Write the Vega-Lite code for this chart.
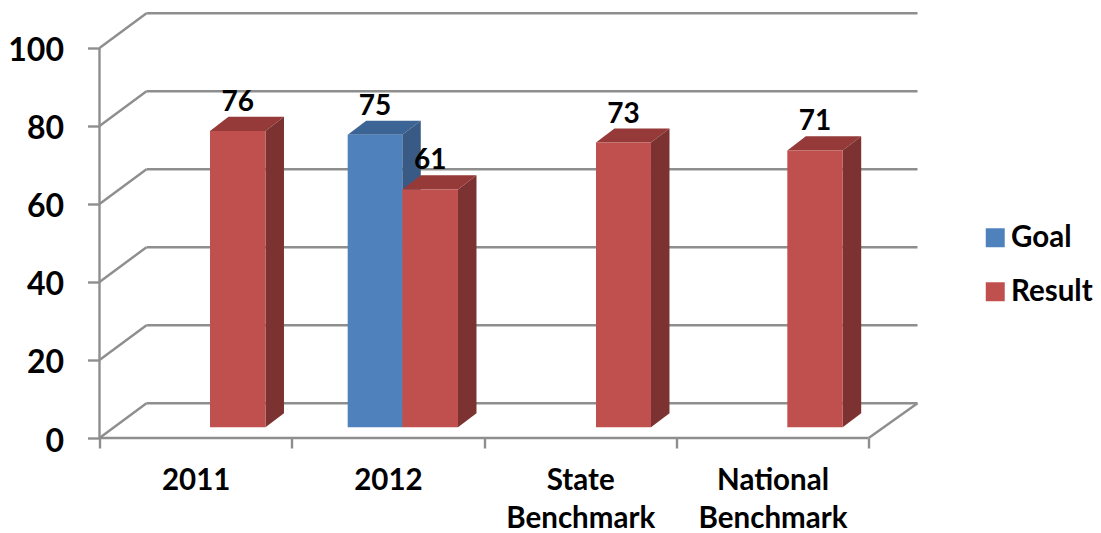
{
"$schema":"https://vega.github.io/schema/vega-lite/v6.json",
"width":818,"height":425,
"autosize":{"type":"none"},
"padding":{"left":99.5,"top":13,"right":183.5,"bottom":95},
"background":"white",
"config":{"view":{"stroke":null},"font":"Lato"},
"datasets":{
"bars":[
{"category":"2011","series":"Result","value":76,"left":0.5746,"right":0.8632,"mid":0.7189,"base":2.74,"top":78.74},
{"category":"2012","series":"Goal","value":75,"left":1.2907,"right":1.5746,"mid":1.4327,"base":2.74,"top":77.74},
{"category":"2012","series":"Result","value":61,"left":1.5746,"right":1.8643,"mid":1.7195,"base":2.74,"top":63.74},
{"category":"State Benchmark","series":"Result","value":73,"left":2.582,"right":2.868,"mid":2.725,"base":2.74,"top":75.74},
{"category":"National Benchmark","series":"Result","value":71,"left":3.577,"right":3.865,"mid":3.721,"base":2.74,"top":73.74}
],
"lines":[
{"x":0.2444,"x2":4.254,"y":8.92,"y2":8.92},
{"x":0.2444,"x2":4.254,"y":28.92,"y2":28.92},
{"x":0.2444,"x2":4.254,"y":48.92,"y2":48.92},
{"x":0.2444,"x2":4.254,"y":68.92,"y2":68.92},
{"x":0.2444,"x2":4.254,"y":88.92,"y2":88.92},
{"x":0.2444,"x2":4.254,"y":108.92,"y2":108.92},
{"x":0,"x2":0.2444,"y":0,"y2":8.92},
{"x":0,"x2":0.2444,"y":20,"y2":28.92},
{"x":0,"x2":0.2444,"y":40,"y2":48.92},
{"x":0,"x2":0.2444,"y":60,"y2":68.92},
{"x":0,"x2":0.2444,"y":80,"y2":88.92},
{"x":0,"x2":0.2444,"y":100,"y2":108.92},
{"x":4,"x2":4.254,"y":0,"y2":8.92},
{"x":0,"x2":4,"y":0,"y2":0},
{"x":0,"x2":0,"y":0,"y2":100}
],
"faces":[
{"face":"g-top","shade":"blueTop","x":1.2907,"y":77.74,"y2":77.74},
{"face":"g-top","shade":"blueTop","x":1.3869,"y":81.34,"y2":77.74},
{"face":"g-top","shade":"blueTop","x":1.5746,"y":81.34,"y2":77.74},
{"face":"g-top","shade":"blueTop","x":1.6708,"y":81.34,"y2":81.34},
{"face":"g-side","shade":"blueSide","x":1.5746,"y":77.74,"y2":2.74},
{"face":"g-side","shade":"blueSide","x":1.6708,"y":81.34,"y2":6.34},
{"face":"a-top","shade":"redTop","x":0.5746,"y":78.74,"y2":78.74},
{"face":"a-top","shade":"redTop","x":0.6708,"y":82.34,"y2":78.74},
{"face":"a-top","shade":"redTop","x":0.8632,"y":82.34,"y2":78.74},
{"face":"a-top","shade":"redTop","x":0.9594,"y":82.34,"y2":82.34},
{"face":"a-side","shade":"redSide","x":0.8632,"y":78.74,"y2":2.74},
{"face":"a-side","shade":"redSide","x":0.9594,"y":82.34,"y2":6.34},
{"face":"r-side","shade":"redSide","x":1.8643,"y":63.74,"y2":2.74},
{"face":"r-side","shade":"redSide","x":1.9605,"y":67.34,"y2":6.34},
{"face":"r-top","shade":"redTop","x":1.5746,"y":63.74,"y2":63.74},
{"face":"r-top","shade":"redTop","x":1.6708,"y":67.34,"y2":63.74},
{"face":"r-top","shade":"redTop","x":1.8643,"y":67.34,"y2":63.74},
{"face":"r-top","shade":"redTop","x":1.9605,"y":67.34,"y2":67.34},
{"face":"s-top","shade":"redTop","x":2.582,"y":75.74,"y2":75.74},
{"face":"s-top","shade":"redTop","x":2.6782,"y":79.34,"y2":75.74},
{"face":"s-top","shade":"redTop","x":2.868,"y":79.34,"y2":75.74},
{"face":"s-top","shade":"redTop","x":2.9642,"y":79.34,"y2":79.34},
{"face":"s-side","shade":"redSide","x":2.868,"y":75.74,"y2":2.74},
{"face":"s-side","shade":"redSide","x":2.9642,"y":79.34,"y2":6.34},
{"face":"n-top","shade":"redTop","x":3.577,"y":73.74,"y2":73.74},
{"face":"n-top","shade":"redTop","x":3.6732,"y":77.34,"y2":73.74},
{"face":"n-top","shade":"redTop","x":3.865,"y":77.34,"y2":73.74},
{"face":"n-top","shade":"redTop","x":3.9612,"y":77.34,"y2":77.34},
{"face":"n-side","shade":"redSide","x":3.865,"y":73.74,"y2":2.74},
{"face":"n-side","shade":"redSide","x":3.9612,"y":77.34,"y2":6.34}
]
},
"layer":[
{
"data":{"name":"lines"},
"mark":{"type":"rule","color":"#8e8e8e","strokeWidth":2.4},
"encoding":{
"x":{"field":"x","type":"quantitative","scale":{"domain":[0,4.254],"nice":false,"zero":false},
"axis":{"title":null,"grid":false,"domain":false,"values":[0,0.5,1,1.5,2,2.5,3,3.5,4],
"labelExpr":"datum.value==0.5?'2011':datum.value==1.5?'2012':datum.value==2.5?['State','Benchmark']:datum.value==3.5?['National','Benchmark']:''",
"tickOpacity":{"condition":{"test":"datum.value % 1 === 0","value":1},"value":0},
"tickColor":"#8e8e8e","tickWidth":2.4,"tickSize":10,"labelFontSize":29.5,"labelFontWeight":"bold","labelColor":"#000000","labelFont":"Lato","labelPadding":18,"labelLineHeight":38,"labelBaseline":"top","labelOverlap":false,"labelFlush":false,"labelLimit":300}},
"x2":{"field":"x2"},
"y":{"field":"y","type":"quantitative","scale":{"domain":[0,108.97],"nice":false,"zero":false},
"axis":{"title":null,"grid":false,"domain":false,"values":[0,20,40,60,80,100],"tickColor":"#8e8e8e","tickWidth":2.4,"tickSize":12,"labelFontSize":32,"labelFontWeight":"bold","labelColor":"#000000","labelFont":"Lato","labelPadding":24,"labelOffset":3}},
"y2":{"field":"y2"}
}
},
{
"data":{"name":"faces"},
"mark":{"type":"area","orient":"vertical","interpolate":"linear"},
"encoding":{
"x":{"field":"x","type":"quantitative"},
"y":{"field":"y","type":"quantitative","stack":null},
"y2":{"field":"y2"},
"detail":{"field":"face"},
"color":{"field":"shade","type":"nominal","legend":null,
"scale":{"domain":["blueTop","blueSide","redTop","redSide"],"range":["#3c6494","#385a85","#953a38","#7c3230"]}}
}
},
{
"data":{"name":"bars"},
"mark":{"type":"rect"},
"encoding":{
"x":{"field":"left","type":"quantitative"},
"x2":{"field":"right"},
"y":{"field":"base","type":"quantitative"},
"y2":{"field":"top"},
"color":{"field":"series","type":"nominal",
"scale":{"domain":["Goal","Result"],"range":["#4f81bd","#c0504d"]},
"legend":{"title":null,"orient":"none","legendX":881,"legendY":210,"symbolType":"square","symbolSize":360,"symbolStrokeWidth":0,"labelFontSize":29.5,"labelFontWeight":"bold","labelColor":"#000000","labelFont":"Lato","labelOffset":1,"rowPadding":23}}
}
},
{
"data":{"name":"bars"},
"mark":{"type":"text","fontSize":28,"fontWeight":"bold","color":"#000000","font":"Lato","dy":-28,"align":"center","baseline":"middle"},
"encoding":{
"x":{"field":"mid","type":"quantitative"},
"y":{"field":"top","type":"quantitative"},
"text":{"field":"value","type":"quantitative"}
}
}
],
"resolve":{"scale":{"color":"independent"}}
}
